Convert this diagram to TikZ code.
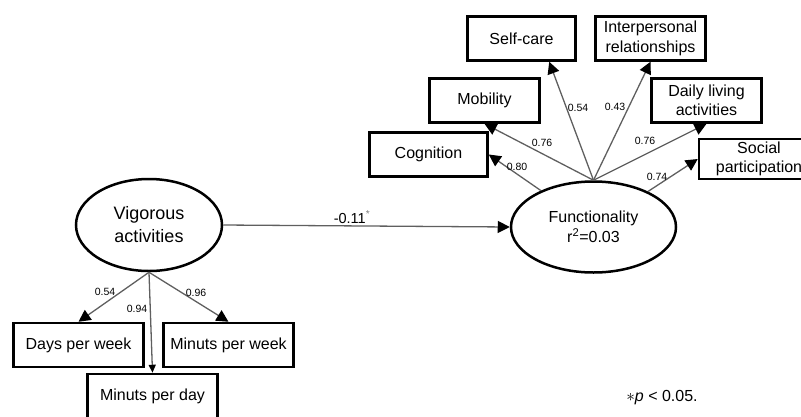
\documentclass[tikz,border=0pt]{standalone}
\usepackage{fontspec}
\setmainfont{Liberation Sans}
\usepackage{xcolor}
\usepackage{tikz}
\usetikzlibrary{arrows.meta,calc,shapes.geometric}
\definecolor{pathgray}{RGB}{95,95,95}
\tikzset{
  varbox/.style={draw, line width=2.5pt, minimum width=108pt, minimum height=44pt,
    inner sep=0pt, align=center, font=\fontsize{16}{19.5}\selectfont},
  latent/.style={ellipse, draw, line width=2.5pt, inner sep=0pt, align=center},
  coef/.style={inner sep=1pt, font=\fontsize{10.5}{12}\selectfont},
  loadArrow/.style={draw=pathgray, line width=1.3pt,
    -{Triangle[length=12pt,width=12pt,black]}},
  smallArrow/.style={draw=pathgray, line width=1.3pt,
    -{Triangle[length=8pt,width=7pt,black]}}
}

\begin{document}
\begin{tikzpicture}[x=1pt,y=-1pt]
  \clip (0,0) rectangle (801,416);
  % latent variables
  \node[latent, minimum width=146pt, minimum height=92pt,
    font=\fontsize{18}{23}\selectfont] (V) at (149,225) {Vigorous\\activities};
  \node[latent, minimum width=165pt, minimum height=91pt,
    font=\fontsize{16}{19.5}\selectfont] (F) at (593.5,227) {Functionality\\r\textsuperscript{2}=0.03};
  % indicators of functionality
  \node[varbox] (SC) at (521.5,38.5) {Self-care};
  \node[varbox, minimum width=110pt] (IR) at (650.5,38.5) {Interpersonal\\relationships};
  \node[varbox, minimum width=110pt] (Mob) at (484.5,100.5) {Mobility};
  \node[varbox, minimum width=110pt] (DL) at (706.5,100.5) {Daily living\\activities};
  \node[varbox, minimum width=118pt] (Cog) at (428.5,154.5) {Cognition};
  \node[varbox, minimum width=128pt, minimum height=40pt] (Soc) at (763,159) {\hspace*{-8pt}Social\\\hspace*{-8pt}participation};
  % indicators of vigorous activities
  \node[varbox, minimum width=130pt] (DW) at (78.5,345) {Days per week};
  \node[varbox, minimum width=130pt] (MW) at (228.5,345) {Minuts per week};
  \node[varbox, minimum width=130pt] (MD) at (152.5,396) {Minuts per day};
  % loadings
  \foreach \t in {SC.-40,IR.south,Mob.south,DL.south}
    \draw[loadArrow] (F.north) -- (\t);
  \draw[loadArrow] (F) -- (Cog.east);
  \draw[loadArrow] (F) -- (Soc.west);
  \foreach \t in {DW,MW}
    \draw[loadArrow] (V.south) -- (\t.north);
  \draw[smallArrow] (V.south) -- (MD.north);
  % structural path
  \draw[loadArrow] (V.east) -- (F.west);
  \node[font=\fontsize{14.5}{16}\selectfont, inner sep=1pt] (b) at (352,217) {-0.11\textsuperscript{\color{gray}*}};
  % coefficients
  \foreach \n/\x/\y/\v in {a/578/108/0.54, b/615/107/0.43, c/542/143/0.76,
      d/645/141/0.76, e/517/167/0.80, f/657/177/0.74,
      g/105/292/0.54, h/137/309/0.94, i/196/293/0.96}
    \node[coef] (k\n) at (\x,\y) {\v};
  \node[font=\fontsize{16}{19.5}\selectfont, inner sep=0pt] (fn) at (662,398) {$\ast$\textit{p} < 0.05.};
\end{tikzpicture}
\end{document}
